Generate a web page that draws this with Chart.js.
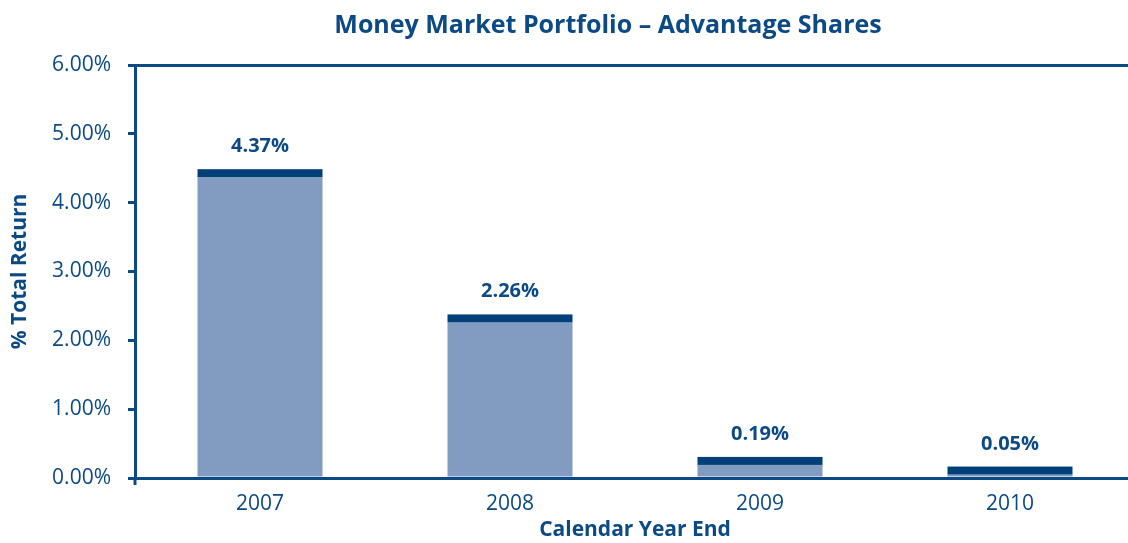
<!DOCTYPE html>
<html>
<head>
<meta charset="utf-8">
<script src="https://cdn.jsdelivr.net/npm/chart.js@4.4.1/dist/chart.umd.min.js"></script>
<style>
  html, body { margin: 0; padding: 0; background: #ffffff; overflow: hidden; }
  #wrap { width: 1128px; height: 543px; position: relative; overflow: hidden; }
</style>
</head>
<body>
<div id="wrap"><canvas id="c" width="1135" height="543"></canvas></div>
<script>
// ---- data ----
const categories = ['2007', '2008', '2009', '2010'];
const totalReturn = [4.37, 2.26, 0.19, 0.05];
const valueLabels = ['4.37%', '2.26%', '0.19%', '0.05%'];
const yTickValues = [0, 1, 2, 3, 4, 5, 6];
const chartTitle = 'Money Market Portfolio – Advantage Shares';

const DARK = '#0b4a85';
const CAP = '#004079';
const LIGHT = '#819cc0';
const FONT = "'Open Sans', 'DejaVu Sans', sans-serif";

const capAndLabels = {
  id: 'capAndLabels',
  afterDatasetsDraw(chart) {
    const ctx = chart.ctx;
    const meta = chart.getDatasetMeta(0);
    ctx.save();
    meta.data.forEach((bar, i) => {
      const left = bar.x - bar.width / 2;
      ctx.fillStyle = CAP;
      ctx.fillRect(left, bar.y - 8, bar.width, 8);
      ctx.fillStyle = DARK;
      ctx.font = "bold 20px " + FONT;
      ctx.textAlign = 'center';
      ctx.textBaseline = 'alphabetic';
      ctx.fillText(valueLabels[i], bar.x, bar.y - 25);
    });
    // small extension of the y axis below the x axis
    const ca = chart.chartArea;
    ctx.strokeStyle = DARK;
    ctx.lineWidth = 3;
    ctx.beginPath();
    ctx.moveTo(ca.left, ca.bottom);
    ctx.lineTo(ca.left, ca.bottom + 7);
    ctx.stroke();
    // title
    ctx.fillStyle = DARK;
    ctx.font = "bold 25px " + FONT;
    ctx.textAlign = 'center';
    ctx.textBaseline = 'middle';
    ctx.fillText(chartTitle, 608, 26);
    ctx.restore();
  }
};

new Chart(document.getElementById('c'), {
  type: 'bar',
  data: {
    labels: categories,
    datasets: [{
      data: totalReturn,
      backgroundColor: LIGHT,
      borderWidth: 0,
      barPercentage: 0.5,
      categoryPercentage: 1.0
    }]
  },
  options: {
    responsive: false,
    animation: false,
    layout: { padding: { left: 0, right: 0, top: 65, bottom: 0 } },
    plugins: {
      legend: { display: false },
      tooltip: { enabled: false },
      title: { display: false, text: chartTitle }
    },
    scales: {
      x: {
        grid: { display: false, drawTicks: false },
        border: { display: true, color: DARK, width: 3 },
        ticks: { color: DARK, padding: 13, font: { family: FONT, size: 21 } },
        title: {
          display: true,
          text: 'Calendar Year End',
          color: DARK,
          font: { family: FONT, size: 21, weight: 'bold', lineHeight: 1.2 },
          padding: { top: 0, bottom: 0 }
        },
        afterFit(scale) { scale.height = 65; }
      },
      y: {
        min: 0,
        max: 6,
        afterBuildTicks(scale) { scale.ticks = yTickValues.map(v => ({ value: v })); },
        grid: {
          drawOnChartArea: true,
          color: c => (c.tick && c.tick.value === 6) ? DARK : 'rgba(0,0,0,0)',
          tickColor: DARK,
          tickLength: 7,
          lineWidth: 3
        },
        border: { display: true, color: DARK, width: 3 },
        ticks: {
          color: DARK,
          padding: 17,
          font: { family: FONT, size: 21 },
          callback: v => Number(v).toFixed(2) + '%'
        },
        title: {
          display: true,
          text: '% Total Return',
          color: DARK,
          font: { family: FONT, size: 21, weight: 'bold', lineHeight: 1.2 },
          padding: { top: 7, bottom: 0 }
        },
        afterFit(scale) { scale.width = 135; }
      }
    }
  },
  plugins: [capAndLabels]
});
</script>
</body>
</html>
